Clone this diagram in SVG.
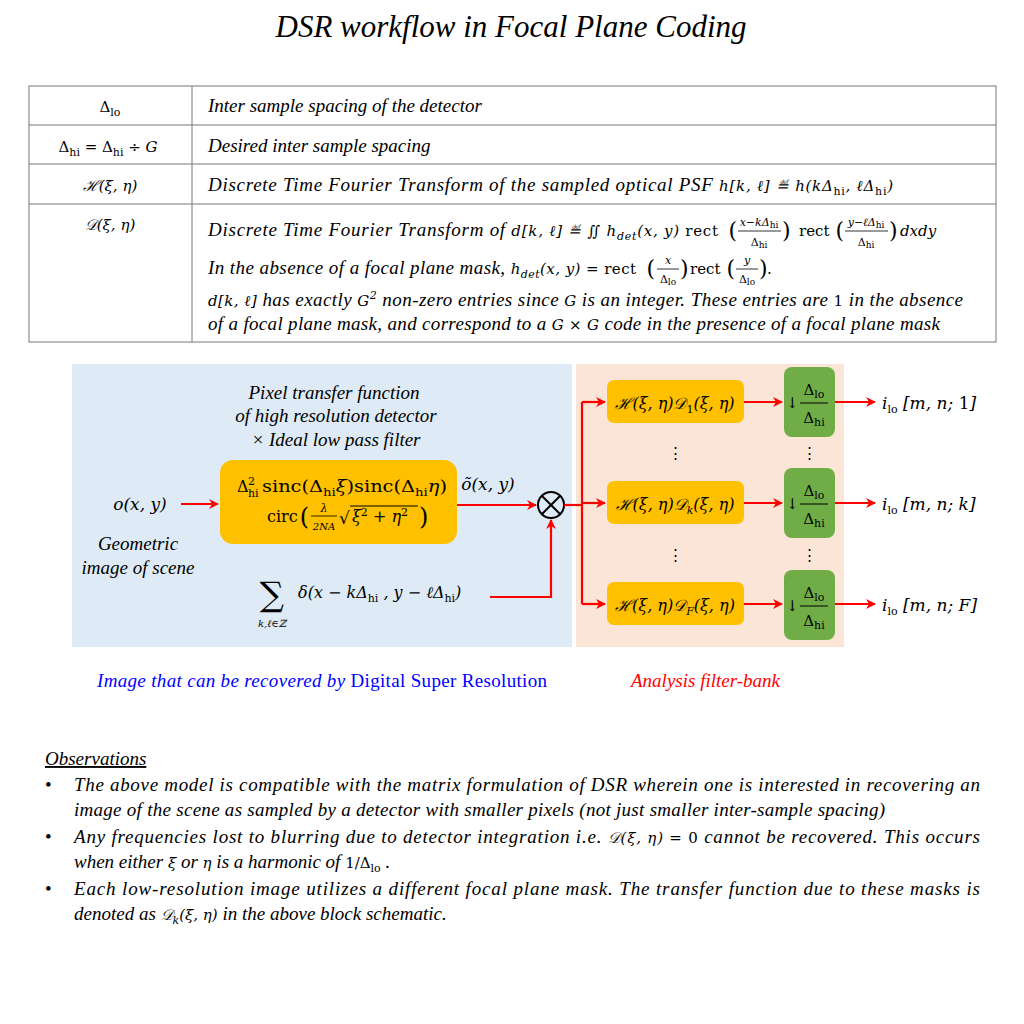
<svg xmlns="http://www.w3.org/2000/svg" width="1024" height="1024" viewBox="0 0 1024 1024">
<style>
text{font-family:"Liberation Serif","DejaVu Serif",serif;font-size:19px;fill:#000}
.i{font-style:italic}
.m{font-family:"DejaVu Serif","Liberation Serif",serif;font-size:15px}
.s{font-size:11px}
.f{font-family:"DejaVu Serif",serif;font-size:11px}
.red{stroke:#ff0000;stroke-width:2.2;fill:none}
.tb{stroke:#777;stroke-width:1;fill:none}
.or{fill:#ffc000}
.gr{fill:#70ad47}
.fl{stroke:#000;stroke-width:0.8}
</style>
<defs>
<marker id="ah" markerWidth="10" markerHeight="10" refX="9" refY="5" orient="auto" markerUnits="userSpaceOnUse">
<path d="M0,0 L10,5 L0,10 L3,5 Z" fill="#ff0000"/>
</marker>
</defs>
<rect width="1024" height="1024" fill="#fff"/>
<text x="511" y="37" text-anchor="middle" class="i" style="font-size:31px">DSR workflow in Focal Plane Coding</text>

<g id="table">
<rect x="29" y="86" width="967" height="256" class="tb"/>
<line x1="29" y1="125" x2="996" y2="125" class="tb"/>
<line x1="29" y1="164" x2="996" y2="164" class="tb"/>
<line x1="29" y1="204" x2="996" y2="204" class="tb"/>
<line x1="192" y1="86" x2="192" y2="342" class="tb"/>
<text x="110" y="112" text-anchor="middle" class="m">Δ<tspan class="s" dy="4">lo</tspan></text>
<text x="108" y="152" text-anchor="middle" class="m">Δ<tspan class="s" dy="4">hi</tspan><tspan dy="-4"> = Δ</tspan><tspan class="s" dy="4">hi</tspan><tspan dy="-4"> ÷ </tspan><tspan class="i">G</tspan></text>
<text x="110" y="191" text-anchor="middle" class="m i">ℋ(ξ, η)</text>
<text x="110" y="230" text-anchor="middle" class="m i">𝒟(ξ, η)</text>
<text x="208" y="112" class="i">Inter sample spacing of the detector</text>
<text x="208" y="152" class="i">Desired inter sample spacing</text>
<text x="208" y="191" class="i" textLength="685" lengthAdjust="spacing">Discrete Time Fourier Transform of  the sampled optical PSF <tspan class="m">h[k, ℓ] ≝ h(kΔ<tspan class="s" style="font-style:normal" dy="4">hi</tspan><tspan dy="-4">, ℓΔ</tspan><tspan class="s" style="font-style:normal" dy="4">hi</tspan><tspan dy="-4">)</tspan></tspan></text>
<text x="208" y="236" class="i" textLength="510" lengthAdjust="spacing">Discrete Time Fourier Transform of  <tspan class="m">d[k, ℓ] ≝ ∬ h<tspan class="s" dy="4">det</tspan><tspan dy="-4">(x, y) </tspan><tspan style="font-style:normal">rect</tspan></tspan></text>
<text x="737" y="238" class="m" style="font-size:22px" text-anchor="end">(</text>
<text x="782" y="238" class="m" style="font-size:22px">)</text>
<text x="799" y="236" class="m">rect</text>
<text x="844" y="238" class="m" style="font-size:22px" text-anchor="end">(</text>
<text x="889" y="238" class="m" style="font-size:22px">)</text>
<text x="900" y="236" class="m i">dxdy</text>
<text x="759" y="226" text-anchor="middle" class="f i">x−kΔ<tspan style="font-style:normal" font-size="9" dy="2">hi</tspan></text>
<line x1="738" y1="231" x2="781" y2="231" class="fl"/>
<text x="759" y="246" text-anchor="middle" class="f">Δ<tspan font-size="9" dy="2">hi</tspan></text>
<text x="866" y="226" text-anchor="middle" class="f i">y−ℓΔ<tspan style="font-style:normal" font-size="9" dy="2">hi</tspan></text>
<line x1="845" y1="231" x2="888" y2="231" class="fl"/>
<text x="866" y="246" text-anchor="middle" class="f">Δ<tspan font-size="9" dy="2">hi</tspan></text>
<text x="208" y="274" class="i" textLength="428" lengthAdjust="spacing">In the absence of a focal plane mask, <tspan class="m">h<tspan class="s" dy="4">det</tspan><tspan dy="-4">(x, y) = </tspan><tspan style="font-style:normal">rect</tspan></tspan></text>
<text x="655" y="276" class="m" style="font-size:22px" text-anchor="end">(</text>
<text x="680" y="276" class="m" style="font-size:22px">)</text>
<text x="690" y="274" class="m">rect</text>
<text x="735" y="276" class="m" style="font-size:22px" text-anchor="end">(</text>
<text x="759" y="276" class="m" style="font-size:22px">)</text>
<text x="767" y="274" class="m">.</text>
<text x="668" y="264" text-anchor="middle" class="f i">x</text>
<line x1="657" y1="269" x2="679" y2="269" class="fl"/>
<text x="668" y="283" text-anchor="middle" class="f">Δ<tspan font-size="9" dy="2">lo</tspan></text>
<text x="747" y="264" text-anchor="middle" class="f i">y</text>
<line x1="736" y1="269" x2="758" y2="269" class="fl"/>
<text x="747" y="283" text-anchor="middle" class="f">Δ<tspan font-size="9" dy="2">lo</tspan></text>
<text x="208" y="306" class="i" textLength="755" lengthAdjust="spacing"><tspan class="m">d[k, ℓ]</tspan> has exactly <tspan class="m">G<tspan class="s" dy="-7">2</tspan></tspan><tspan dy="7"> non-zero entries since </tspan><tspan class="m">G</tspan> is an integer. These entries are <tspan class="m" style="font-style:normal">1</tspan> in the absence</text>
<text x="208" y="330" class="i" textLength="732" lengthAdjust="spacing">of a focal plane mask, and correspond to a <tspan class="m">G × G</tspan> code in the presence of a focal plane mask</text>
</g>

<g id="panels">
<rect x="72" y="364" width="500" height="283" fill="#deebf7"/>
<rect x="576" y="364" width="268" height="283" fill="#fbe5d6"/>
</g>

<g id="labels-left">
<text x="334" y="399" text-anchor="middle" class="i">Pixel transfer function</text>
<text x="336" y="422" text-anchor="middle" class="i">of high resolution detector</text>
<text x="336" y="446" text-anchor="middle" class="i">× Ideal low pass filter</text>
<text x="140" y="510" text-anchor="middle" class="m i" style="font-size:17px">o(x, y)</text>
<text x="138" y="550" text-anchor="middle" class="i">Geometric</text>
<text x="138" y="574" text-anchor="middle" class="i">image of scene</text>
<text x="488" y="490" text-anchor="middle" class="m i" style="font-size:17px">õ(x, y)</text>
</g>

<g id="filter">
<rect x="220" y="460" width="237" height="84" rx="13" class="or"/>
<text x="237" y="492" class="m" style="font-size:16px">Δ</text>
<text x="248" y="485" class="s" style="font-family:'DejaVu Serif',serif">2</text>
<text x="248" y="497" class="s" style="font-family:'DejaVu Serif',serif">hi</text>
<text x="262" y="492" class="m" style="font-size:16px" textLength="185" lengthAdjust="spacingAndGlyphs">sinc(Δ<tspan class="s" dy="4">hi</tspan><tspan dy="-4" class="i">ξ</tspan>)sinc(Δ<tspan class="s" dy="4">hi</tspan><tspan dy="-4" class="i">η</tspan>)</text>
<text x="267" y="522" class="m" style="font-size:16px">circ</text>
<text x="309" y="525" class="m" style="font-size:24px" text-anchor="end">(</text>
<text x="324" y="512" text-anchor="middle" class="f i">λ</text>
<line x1="311" y1="516" x2="337" y2="516" class="fl"/>
<text x="324" y="530" text-anchor="middle" class="f i" style="font-size:10px">2NA</text>
<text x="339" y="524" class="m" style="font-size:17px">√</text>
<line x1="350" y1="506" x2="418" y2="506" stroke="#000" stroke-width="1"/>
<text x="352" y="522" class="m" style="font-size:16px"><tspan class="i">ξ</tspan><tspan class="s" dy="-6">2</tspan><tspan dy="6"> + </tspan><tspan class="i">η</tspan><tspan class="s" dy="-6">2</tspan></text>
<text x="419" y="525" class="m" style="font-size:24px">)</text>
</g>

<g id="sum">
<text x="272" y="606" text-anchor="middle" style="font-family:'DejaVu Serif',serif;font-size:34px">∑</text>
<text x="272" y="627" text-anchor="middle" class="i" style="font-family:'DejaVu Serif',serif;font-size:10px">k,ℓ∈ℤ</text>
<text x="298" y="598" class="m i" style="font-size:16px">δ(x − kΔ<tspan class="s" style="font-style:normal" dy="4">hi</tspan><tspan dy="-4"> , y − ℓΔ</tspan><tspan class="s" style="font-style:normal" dy="4">hi</tspan><tspan dy="-4">)</tspan></text>
</g>

<g id="mult">
<circle cx="551" cy="505" r="13" fill="none" stroke="#000" stroke-width="2"/>
<line x1="542" y1="496" x2="560" y2="514" stroke="#000" stroke-width="2"/>
<line x1="560" y1="496" x2="542" y2="514" stroke="#000" stroke-width="2"/>
</g>

<g id="branches">
<rect x="607" y="380" width="137" height="43" rx="7" class="or"/>
<rect x="607" y="481" width="137" height="43" rx="7" class="or"/>
<rect x="607" y="582" width="137" height="43" rx="7" class="or"/>
<text x="675" y="409" text-anchor="middle" class="m i" style="font-size:16px">ℋ(ξ, η)𝒟<tspan class="s" style="font-style:normal" dy="4">1</tspan><tspan dy="-4">(ξ, η)</tspan></text>
<text x="675" y="510" text-anchor="middle" class="m i" style="font-size:16px">ℋ(ξ, η)𝒟<tspan class="s" dy="4">k</tspan><tspan dy="-4">(ξ, η)</tspan></text>
<text x="675" y="611" text-anchor="middle" class="m i" style="font-size:16px">ℋ(ξ, η)𝒟<tspan class="s" dy="4">F</tspan><tspan dy="-4">(ξ, η)</tspan></text>
<rect x="784" y="367" width="51" height="70" rx="8" class="gr"/>
<rect x="784" y="468" width="51" height="70" rx="8" class="gr"/>
<rect x="784" y="570" width="51" height="70" rx="8" class="gr"/>
<text x="786" y="408" class="m">↓</text>
<text x="814" y="395" text-anchor="middle" class="m">Δ<tspan class="s" dy="3">lo</tspan></text>
<line x1="800" y1="403" x2="828" y2="403" stroke="#000" stroke-width="1"/>
<text x="814" y="423" text-anchor="middle" class="m">Δ<tspan class="s" dy="3">hi</tspan></text>
<text x="786" y="509" class="m">↓</text>
<text x="814" y="496" text-anchor="middle" class="m">Δ<tspan class="s" dy="3">lo</tspan></text>
<line x1="800" y1="504" x2="828" y2="504" stroke="#000" stroke-width="1"/>
<text x="814" y="524" text-anchor="middle" class="m">Δ<tspan class="s" dy="3">hi</tspan></text>
<text x="786" y="611" class="m">↓</text>
<text x="814" y="598" text-anchor="middle" class="m">Δ<tspan class="s" dy="3">lo</tspan></text>
<line x1="800" y1="606" x2="828" y2="606" stroke="#000" stroke-width="1"/>
<text x="814" y="626" text-anchor="middle" class="m">Δ<tspan class="s" dy="3">hi</tspan></text>
<text x="675" y="458" text-anchor="middle" class="m">⋮</text>
<text x="809" y="458" text-anchor="middle" class="m">⋮</text>
<text x="675" y="560" text-anchor="middle" class="m">⋮</text>
<text x="809" y="560" text-anchor="middle" class="m">⋮</text>
<text x="882" y="409" class="m i" style="font-size:17px">i<tspan class="s" style="font-style:normal" dy="4">lo</tspan><tspan dy="-4"> [m, n; </tspan><tspan style="font-style:normal">1</tspan>]</text>
<text x="882" y="510" class="m i" style="font-size:17px">i<tspan class="s" style="font-style:normal" dy="4">lo</tspan><tspan dy="-4"> [m, n; k]</tspan></text>
<text x="882" y="611" class="m i" style="font-size:17px">i<tspan class="s" style="font-style:normal" dy="4">lo</tspan><tspan dy="-4"> [m, n; F]</tspan></text>
</g>

<g id="connectors">
<path d="M181,504 H218" class="red" marker-end="url(#ah)"/>
<path d="M457,505 H536" class="red" marker-end="url(#ah)"/>
<path d="M490,597 H551 V520" class="red" marker-end="url(#ah)"/>
<path d="M564,505 H582" class="red"/>
<path d="M582,402 V604" class="red"/>
<path d="M582,402 H605" class="red" marker-end="url(#ah)"/>
<path d="M582,503 H605" class="red" marker-end="url(#ah)"/>
<path d="M582,604 H605" class="red" marker-end="url(#ah)"/>
<path d="M744,402 H782" class="red" marker-end="url(#ah)"/>
<path d="M744,503 H782" class="red" marker-end="url(#ah)"/>
<path d="M744,604 H782" class="red" marker-end="url(#ah)"/>
<path d="M835,402 H875" class="red" marker-end="url(#ah)"/>
<path d="M835,503 H875" class="red" marker-end="url(#ah)"/>
<path d="M835,604 H875" class="red" marker-end="url(#ah)"/>
</g>

<text x="97" y="687" class="i" style="fill:#0000ff" textLength="450" lengthAdjust="spacing">Image that can be recovered by <tspan style="font-style:normal">Digital Super Resolution</tspan></text>
<text x="631" y="687" class="i" style="fill:#ff0000">Analysis filter-bank</text>

<g id="observations">
<text x="45" y="765" class="i" text-decoration="underline">Observations</text>
<text x="45" y="791">•</text><text x="74" y="791" class="i" textLength="906" lengthAdjust="spacing">The above model is compatible with the matrix formulation of DSR wherein one is interested in recovering an</text>
<text x="74" y="816" class="i" textLength="811" lengthAdjust="spacing">image of the scene as sampled by a detector with smaller pixels (not just smaller inter-sample spacing)</text>
<text x="45" y="843">•</text><text x="74" y="843" class="i" textLength="906" lengthAdjust="spacing">Any frequencies lost to blurring due to detector integration i.e. <tspan class="m">𝒟(ξ, η) = </tspan><tspan class="m" style="font-style:normal">0</tspan> cannot be recovered. This occurs</text>
<text x="74" y="868" class="i">when either <tspan class="m">ξ</tspan> or <tspan class="m">η</tspan> is a harmonic of <tspan class="m" style="font-style:normal">1/Δ<tspan class="s" dy="4">lo</tspan></tspan><tspan dy="-4"> .</tspan></text>
<text x="45" y="895">•</text><text x="74" y="895" class="i" textLength="906" lengthAdjust="spacing">Each low-resolution image utilizes a different focal plane mask. The transfer function due to these masks is</text>
<text x="74" y="920" class="i">denoted as <tspan class="m">𝒟<tspan class="s" dy="4">k</tspan><tspan dy="-4">(ξ, η)</tspan></tspan> in the above block schematic.</text>
</g>
</svg>
